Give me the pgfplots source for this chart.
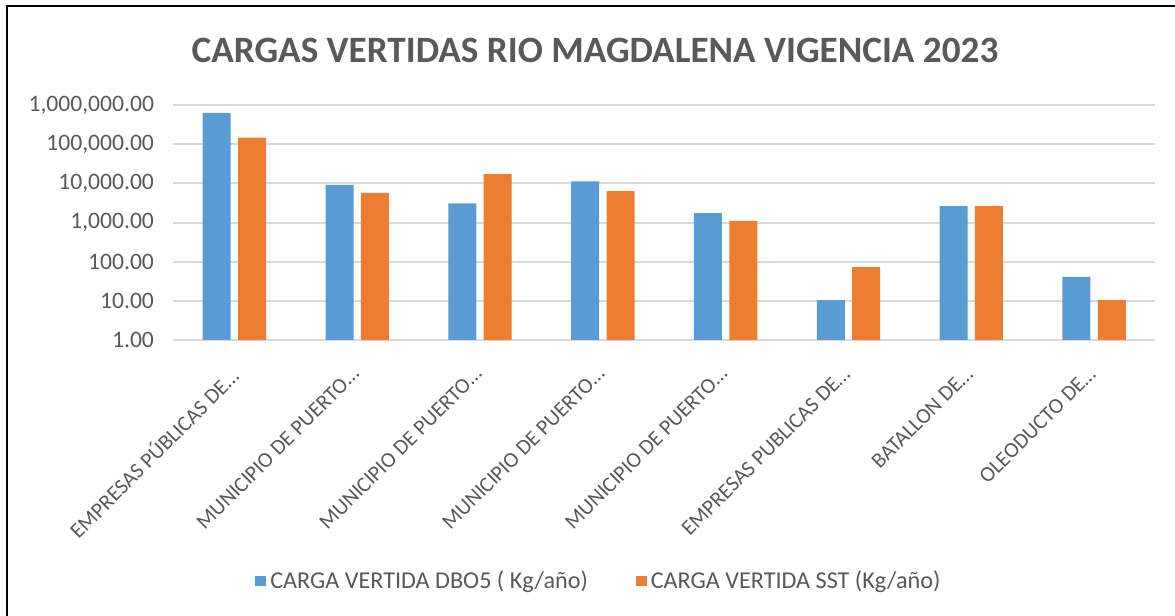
\documentclass[border=0pt]{standalone}
\usepackage{pgfplots}
\pgfplotsset{compat=1.18}
\usepackage{fontspec}
\setmainfont{Carlito}
\definecolor{cblue}{HTML}{5B9BD5}
\definecolor{corange}{HTML}{ED7D31}
\definecolor{tgray}{HTML}{595959}
\definecolor{ggray}{HTML}{D9D9D9}
\begin{document}
\begin{tikzpicture}
\path[use as bounding box] (0,0) rectangle (587.5pt,308pt);
\draw[line width=1pt] (3.25pt,0) -- (3.25pt,304.75pt) -- (587.5pt,304.75pt);
\node[font=\fontsize{18.6}{21}\selectfont\bfseries, text=tgray] at (297.5pt,283pt) {CARGAS VERTIDAS RIO MAGDALENA VIGENCIA 2023};
\begin{axis}[
  at={(86.5pt,138pt)}, anchor=south west,
  scale only axis, width=491.25pt, height=117.5pt,
  ymode=log, log basis y=10, ymin=1, ymax=1000000, log origin=0,
  xmin=-0.5, xmax=7.5,
  xtick={0,...,7},
  xticklabels={EMPRESAS PÚBLICAS DE…, MUNICIPIO DE PUERTO…, MUNICIPIO DE PUERTO…, MUNICIPIO DE PUERTO…, MUNICIPIO DE PUERTO…, EMPRESAS PUBLICAS DE…, BATALLON DE…, OLEODUCTO DE…},
  xticklabel style={rotate=45, anchor=north east, font=\fontsize{10.8}{12}\selectfont, text=tgray, xshift=-8pt, yshift=-3pt},
  ytick={1,10,100,1000,10000,100000,1000000},
  yticklabels={1.00,10.00,100.00,{1,000.00},{10,000.00},{100,000.00},{1,000,000.00}},
  yticklabel style={font=\fontsize{11.8}{13}\selectfont, text=tgray, xshift=-6pt},
  major tick length=0pt, minor tick length=0pt,
  ymajorgrids, grid style={ggray, line width=1pt},
  axis line style={draw=none},
  axis x line*=bottom, x axis line style={ggray, line width=1pt},
  ybar, bar width=14pt,
  legend style={at={(axis description cs:0.4346,-1.0255)}, anchor=center, draw=none, legend columns=2,
    font=\fontsize{12.1}{14}\selectfont, text=tgray, /tikz/every even column/.append style={column sep=22pt}},
  legend image code/.code={\fill[#1] (0pt,-2.7pt) rectangle (5.4pt,2.7pt);},
]
\addplot[fill=cblue, draw=none, bar shift=-8.85pt] coordinates {(0,630000) (1,9200) (2,3080) (3,11200) (4,1740) (5,10.5) (6,2630) (7,41)};
\addplot[fill=corange, draw=none, bar shift=8.85pt] coordinates {(0,148000) (1,5700) (2,17100) (3,6300) (4,1100) (5,73) (6,2630) (7,10.5)};
\legend{CARGA VERTIDA DBO5 ( Kg/año), CARGA VERTIDA SST (Kg/año)}
\end{axis}
\end{tikzpicture}
\end{document}
